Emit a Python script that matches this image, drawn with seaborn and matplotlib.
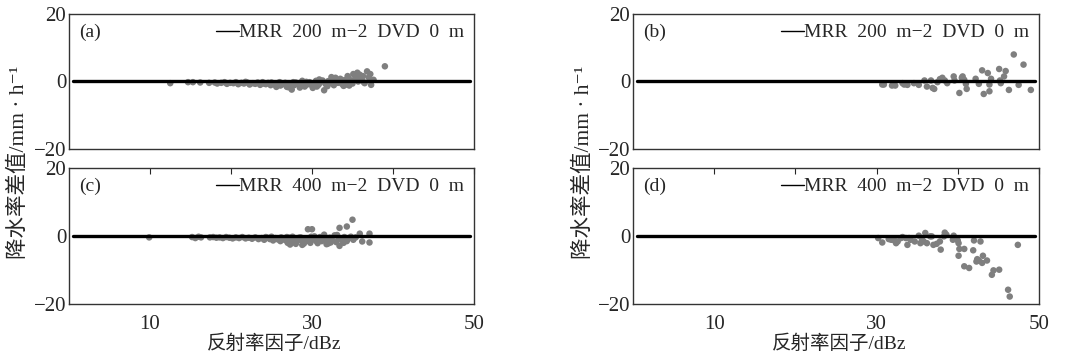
import matplotlib
matplotlib.use('Agg')
import matplotlib.pyplot as plt
import seaborn as sns
import pandas as pd

# Data
line_x = [0.5, 49.5]
line_y = [0, 0]

a_x = [12.5, 14.7, 15.3, 16.2, 17.3, 18.0, 18.3, 18.8, 19.2, 19.5, 19.9, 20.3, 20.6, 20.9,
       21.3, 21.6, 22.0, 22.3, 22.7, 23.0, 23.3, 23.6, 24.0, 24.3, 24.6, 24.9, 25.2, 25.5,
       25.8, 26.1, 26.4, 26.7, 27.0, 27.3, 27.5, 27.8, 28.0, 28.3, 28.6, 28.9, 29.1, 29.4,
       29.7, 30.0, 30.2, 30.5, 30.8, 31.0, 31.3, 31.5, 31.7, 32.0, 32.2, 32.5, 32.7, 33.0,
       33.2, 33.5, 33.7, 34.0, 34.2, 34.5, 34.6, 34.9, 35.1, 35.3, 35.5, 35.7, 35.9, 36.1,
       36.3, 36.5, 36.8, 37.0, 37.2, 37.3, 37.6, 39.0,
       21.8, 23.9, 25.0, 26.0, 26.9, 27.7, 28.5, 29.3, 30.1, 30.9, 31.9, 32.9, 33.9, 34.4,
       35.0, 35.6, 36.4, 25.6, 27.1, 28.8, 30.6, 32.4, 34.1]
a_y = [-0.5, -0.2, -0.2, -0.3, -0.4, -0.3, -0.6, -0.4, -0.2, -0.7, -0.4, -0.5, -0.2, -0.8,
       -0.4, -0.6, -0.3, -0.9, -0.5, -0.7, -0.3, -1.0, -0.6, -0.8, -0.4, -1.1, -0.7, -1.0,
       -0.5, -1.2, -0.8, -0.4, -1.0, -0.6, -2.4, -1.1, -0.3, -0.8, -1.3, -0.5, -1.5, -0.9,
       -0.2, -1.2, -0.6, 0.2, -1.0, -0.4, 0.3, -2.6, -0.8, 0.1, -0.5, 0.5, -1.1, 0.2,
       -0.4, 0.8, -0.7, 0.4, -0.2, 1.0, -1.2, 0.3, 2.2, 0.6, 1.4, 0.0, 2.0, 0.9,
       1.6, -0.5, 3.0, 1.2, 2.2, -1.0, 0.5, 4.5,
       -0.1, -0.2, -0.3, -0.2, -1.6, -0.2, -1.8, -0.1, -1.9, 0.6, -1.4, 1.1, -1.3, 1.6,
       -0.6, 2.6, -0.2, -1.6, -1.7, 0.2, -1.5, 1.3, -1.0]

b_x = [30.7, 30.9, 31.9, 32.3, 33.2, 33.4, 33.6, 33.8, 34.6, 35.2, 35.9, 36.2, 36.7, 36.9,
       37.1, 37.5, 37.8, 38.1, 38.4, 38.7, 39.5, 39.6, 40.2, 40.5, 40.6, 40.8, 41.0, 41.1,
       42.2, 42.6, 43.0, 43.2, 43.7, 43.9, 44.1, 43.9, 45.1, 45.2, 45.3, 45.9, 45.7, 46.3,
       46.9, 47.5, 48.1, 49.0]
b_y = [-0.9, -0.9, -1.2, -1.2, -0.5, -0.9, -0.7, -1.0, -0.5, -1.0, 0.3, -1.5, 0.3, -1.9,
       -2.2, -0.2, 0.7, 1.1, 0.3, -0.5, 1.5, 0.3, -3.4, 1.1, 1.5, 0.5, -0.7, -2.2,
       0.8, -0.7, 3.3, -3.7, 2.5, -2.9, 0.8, -0.9, 3.7, 0.3, -0.5, 3.1, 1.5, -2.5,
       8.0, -1.0, 5.0, -2.5]

c_x = [9.9, 15.2, 15.6, 16.0, 16.3, 17.4, 17.8, 18.2, 18.6, 19.0, 19.4, 19.8, 20.2, 20.6,
       21.0, 21.4, 21.8, 22.2, 22.6, 23.0, 23.4, 23.8, 24.1, 24.5, 24.8, 25.2, 25.5, 25.8,
       26.1, 26.4, 26.7, 27.0, 27.2, 27.5, 27.8, 28.0, 28.3, 28.6, 28.9, 29.2, 29.5, 29.5,
       29.8, 30.0, 30.1, 30.4, 30.7, 31.0, 31.2, 31.5, 31.7, 32.0, 32.2, 32.5, 32.8, 33.0,
       33.3, 33.4, 33.4, 33.7, 34.0, 34.3, 34.3, 34.6, 35.0, 35.1, 35.4, 35.9, 36.2, 37.1,
       37.1,
       24.3, 25.0, 26.2, 26.9, 27.6, 28.4, 29.0, 29.9, 30.6, 31.4, 32.3, 33.1, 33.9, 34.8,
       27.3, 28.8, 30.3, 31.8]
c_y = [-0.4, -0.3, -0.6, -0.2, -0.4, -0.4, -0.3, -0.5, -0.4, -0.6, -0.3, -0.5, -0.7, -0.4,
       -0.6, -0.3, -0.7, -0.5, -0.8, -0.4, -0.9, -0.6, -1.1, -0.5, -0.9, -1.3, -0.6, -1.0,
       -1.5, -0.7, -1.2, -2.0, -0.5, -1.6, -0.9, -2.3, -1.2, -0.4, -1.8, -0.8, 2.0, -1.4,
       -2.0, 2.0, -0.6, -1.2, -2.1, -0.3, -1.5, 0.4, -1.0, -2.2, -0.5, -1.3, 0.2, -1.8,
       -0.7, 2.4, -2.9, -1.2, -0.3, 2.8, -1.5, -0.6, 4.8, -1.1, -0.4, 0.7, -1.6, 0.7,
       -1.9,
       -0.3, -0.2, -0.4, -0.3, -0.2, -0.5, -2.2, -0.2, -1.6, -0.3, -1.9, 0.3, -2.0, -0.2,
       -2.5, -2.6, -0.1, -2.4]

d_x = [30.2, 30.7, 31.5, 31.8, 32.2, 32.4, 32.6, 33.0, 33.2, 33.6, 33.8, 34.0, 34.2, 34.7,
       35.2, 35.4, 35.6, 35.8, 36.0, 36.2, 36.6, 36.8, 37.0, 37.4, 37.8, 37.9, 38.3, 38.4,
       38.6, 39.4, 39.5, 40.0, 40.1, 40.2, 40.1, 40.8, 40.8, 41.4, 41.9, 42.0, 42.4, 42.3,
       42.6, 42.8, 43.0, 43.1, 43.6, 44.2, 44.4, 45.1, 46.2, 46.4, 47.4]
d_y = [-0.6, -1.9, -0.9, -1.1, -1.3, -2.1, -1.6, -0.6, -0.3, -0.6, -2.6, -0.6, -1.1, -1.6,
       0.1, -2.1, -1.1, -1.6, 0.9, -2.1, -0.1, -0.1, -2.6, -2.3, -1.6, -4.0, -0.1, 1.0,
       0.4, -1.1, 0.1, -1.3, -2.1, -3.8, -5.8, -3.8, -8.9, -9.4, -4.2, -1.3, -6.8, -7.5,
       -7.2, -1.6, -7.9, -5.8, -7.2, -11.4, -10.1, -9.9, -15.8, -17.8, -2.6]

panel_tags = ['(a)', '(b)', '(c)', '(d)']
legend_texts = ['MRR  200  m\u22122  DVD  0  m', 'MRR  200  m\u22122  DVD  0  m',
                'MRR  400  m\u22122  DVD  0  m', 'MRR  400  m\u22122  DVD  0  m']
x_ticks = [10, 20, 30, 40, 50]
x_ticklabels = ['10', '', '30', '', '50']
y_ticks = [-20, 0, 20]
y_ticklabels = ['\u221220', '0', '20']
y_title = '降水率差值/mm · h\u207b\u00b9'
x_title = '反射率因子/dBz'

sns.set_style('white')
plt.rcParams['font.family'] = ['Liberation Serif', 'Noto Sans CJK SC', 'DejaVu Sans']

fig = plt.figure(figsize=(10.68, 3.56), dpi=100)
boxes = [
    [0.0646, 0.5815, 0.3792, 0.3792],
    [0.5927, 0.5815, 0.3801, 0.3792],
    [0.0646, 0.146, 0.3792, 0.382],
    [0.5927, 0.146, 0.3801, 0.382],
]
xs = [a_x, b_x, c_x, d_x]
ys = [a_y, b_y, c_y, d_y]

for i in range(4):
    ax = fig.add_axes(boxes[i])
    pts = pd.DataFrame({'x': xs[i], 'y': ys[i]})
    sns.scatterplot(data=pts, x='x', y='y', ax=ax, color='#7f7f7f', s=22,
                    edgecolor='none', legend=False, zorder=2)
    sns.lineplot(x=line_x, y=line_y, ax=ax, color='black', linewidth=2.4,
                 label=legend_texts[i], zorder=3)
    ax.set_xlim(0, 50)
    ax.set_ylim(-20, 20)
    ax.set_xlabel('')
    ax.set_ylabel('')
    ax.set_yticks(y_ticks)
    ax.set_yticklabels(y_ticklabels, fontsize=15)
    ax.tick_params(axis='y', length=0, pad=2)
    ax.set_xticks(x_ticks)
    if i < 2:
        ax.tick_params(axis='x', length=0, labelbottom=False)
    else:
        ax.set_xticklabels(x_ticklabels, fontsize=15)
        ax.tick_params(axis='x', direction='in', top=True, length=4, width=0.8, pad=8)
    for sp in ax.spines.values():
        sp.set_linewidth(1.0)
        sp.set_color('#333333')
    ax.text(0.025, 0.93, panel_tags[i], transform=ax.transAxes, fontsize=14,
            ha='left', va='top')
    leg = ax.legend(loc='upper right', frameon=False, fontsize=14, handlelength=1.2,
                    handletextpad=0.0, borderaxespad=0.2, borderpad=0.3)
    for h in leg.get_lines():
        h.set_linewidth(1.0)

for xc in [0.018, 0.547]:
    fig.text(xc, 0.545, y_title, rotation=90, ha='center', va='center', fontsize=15.5)
for xc in [0.257, 0.786]:
    fig.text(xc, 0.035, x_title, ha='center', va='center', fontsize=14)

fig.savefig('out.png', dpi=100)
